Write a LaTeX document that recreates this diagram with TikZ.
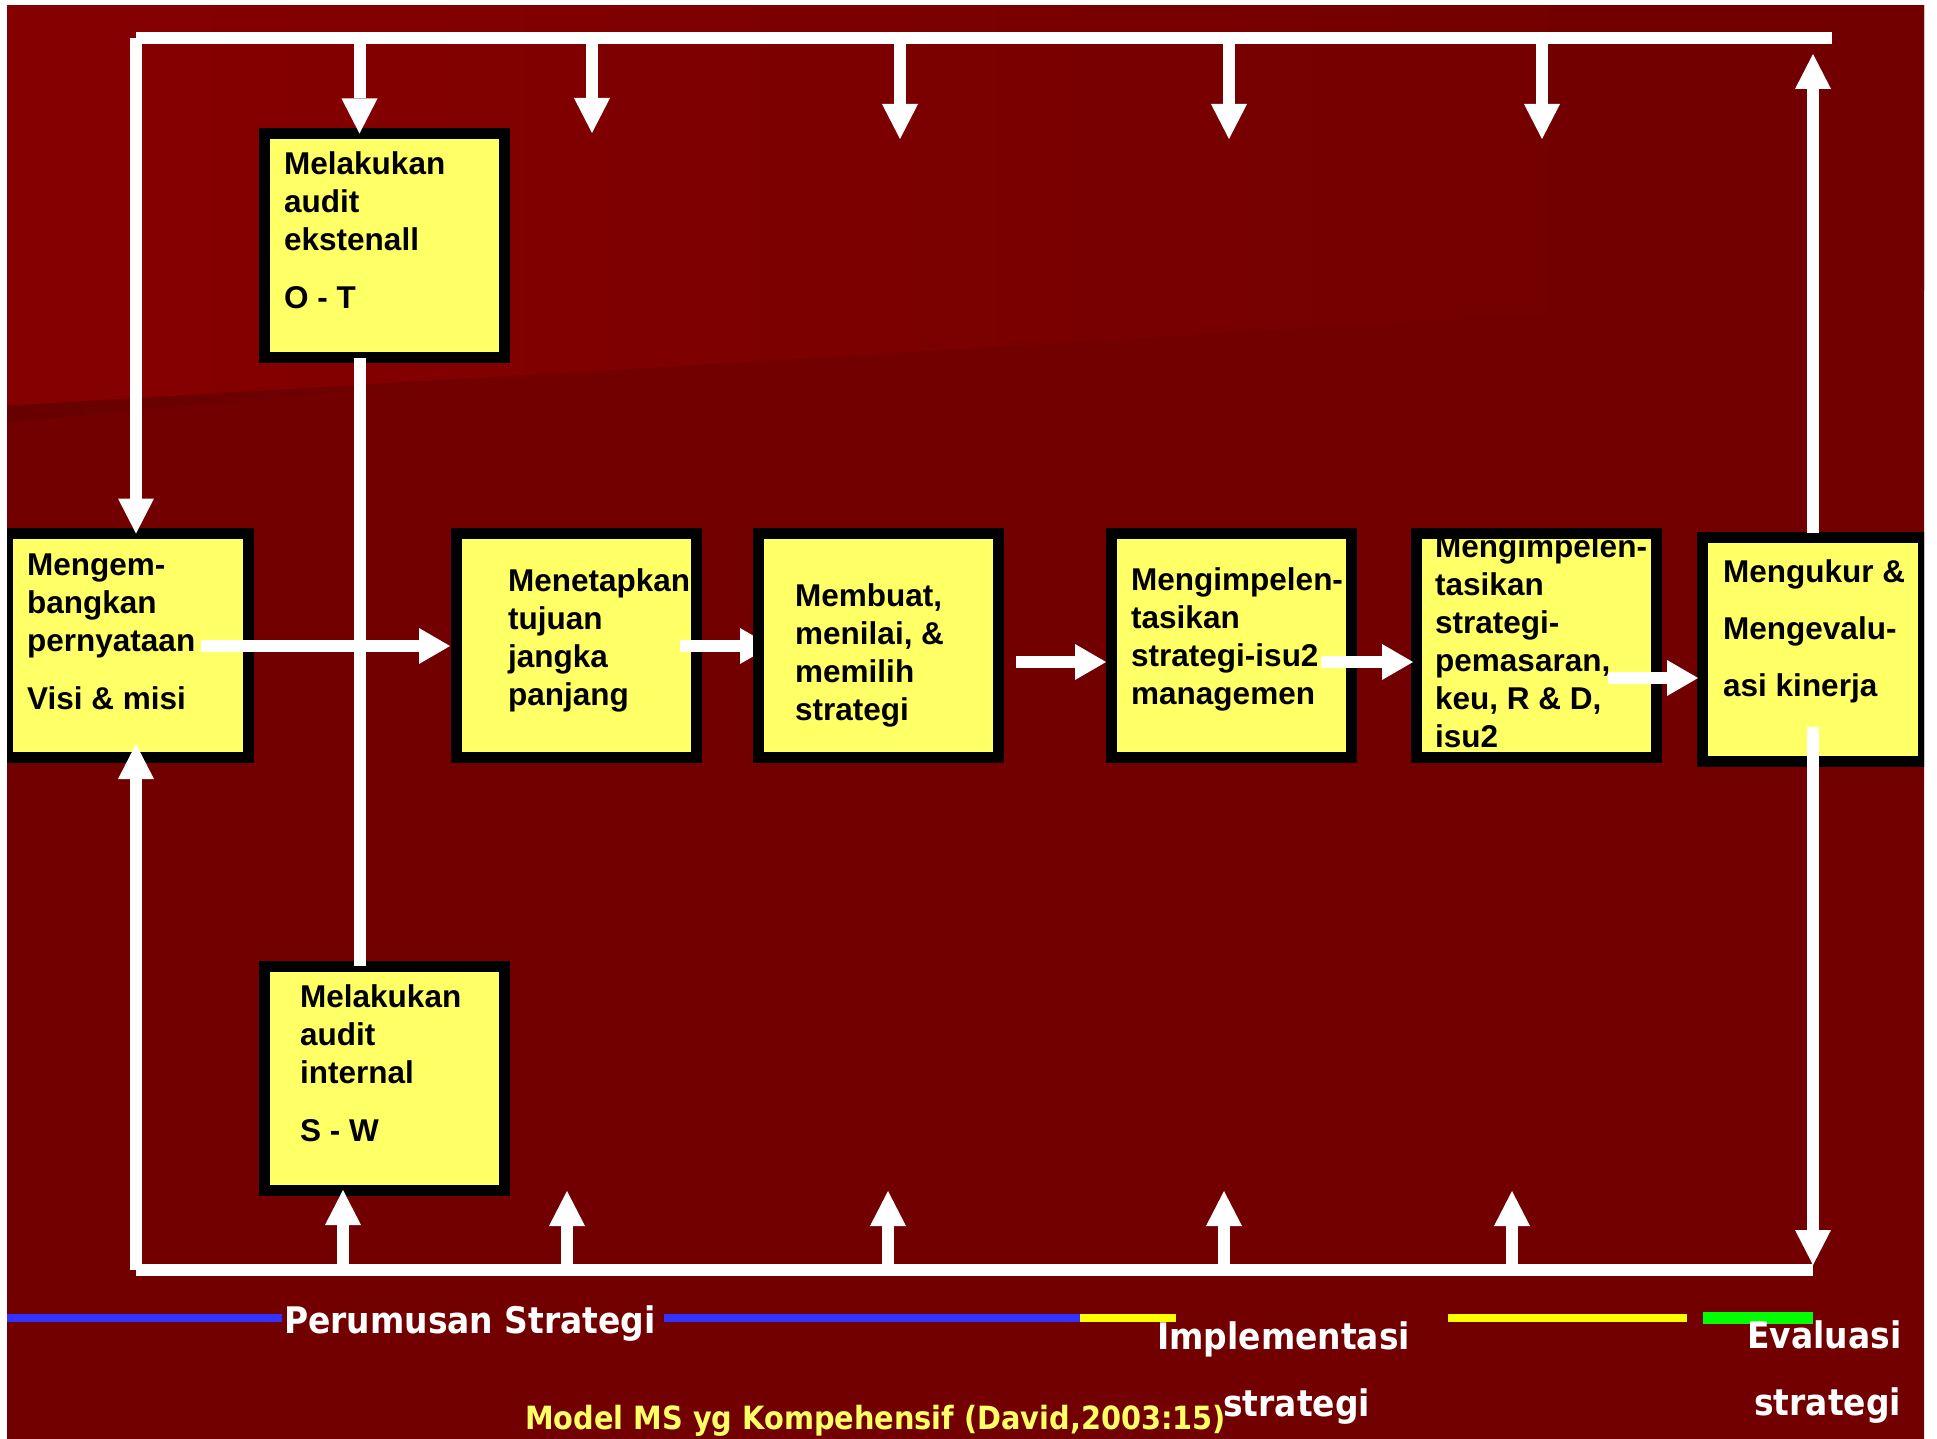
\documentclass[tikz,border=0pt]{standalone}
\usepackage{fontspec}
\setmainfont{Liberation Sans}
\newfontfamily\legendfont[FakeStretch=0.9]{DejaVu Sans}
\usetikzlibrary{arrows.meta,calc}

\definecolor{bgdark}{HTML}{720000}
\definecolor{bglight}{HTML}{880000}
\definecolor{bgshadow}{HTML}{680000}
\definecolor{boxyellow}{HTML}{FFFF66}
\definecolor{lineblue}{HTML}{3333FF}
\definecolor{lineyellow}{HTML}{FFFF00}
\definecolor{linegreen}{HTML}{00FF00}

\pgfdeclarehorizontalshading{topglow}{100bp}{color(0bp)=(bglight); color(30bp)=(bglight!85!bgdark); color(68bp)=(bgdark); color(100bp)=(bgdark)}

% multi-line text whose baseline is the first line
\newcommand\stack[1]{\begin{tabular}[t]{@{}l@{}}#1\end{tabular}}
% yellow face and black rim of a stage box
\newcommand\paintbox[1]{\fill[boxface] (#1.north west) rectangle (#1.south east);}
\newcommand\rimbox[1]{\draw[boxrim] (#1.north west) rectangle (#1.south east);}

\begin{document}
\begin{tikzpicture}[x=1bp,y=-1bp,
  stagebox/.style={rectangle, inner sep=0pt, outer sep=0pt, minimum width=240bp, minimum height=224bp},
  boxface/.style={fill=boxyellow},
  boxrim/.style={draw=black, line width=11bp, line join=miter},
  boxtext/.style={anchor=base west, inner sep=0pt, text=black, font=\bfseries\fontsize{31.5bp}{38bp}\selectfont},
  bus/.style={draw=white, line width=12bp},
  vtip/.style={bus, -{Triangle[length=35bp,width=36bp,line width=0pt]}},
  htip/.style={bus, -{Triangle[length=31bp,width=36bp,line width=0pt]}},
  legendtext/.style={anchor=base west, inner sep=0pt, text=white, font=\legendfont\bfseries\fontsize{36.6bp}{44bp}\selectfont},
  captiontext/.style={anchor=base west, inner sep=0pt, text=boxyellow, font=\legendfont\bfseries\fontsize{32bp}{38bp}\selectfont},
  phasebar/.style={line width=8bp}
]
\useasboundingbox (0,0) rectangle (1937,1439);

% stage boxes (geometry only; painted below in stacking order)
\node[stagebox] (ext)  at (384,245.5) {};
\node[stagebox] (int)  at (384,1078) {};
\node[stagebox] (vis)  at (128,645.5) {};
\node[stagebox] (tuj)  at (576.5,645.5) {};
\node[stagebox] (pil)  at (878.5,645.5) {};
\node[stagebox] (man)  at (1231.5,645.5) {};
\node[stagebox] (fun)  at (1536.5,645.5) {};
\node[stagebox, minimum width=221bp] (eval) at (1813,649.5) {};

% loop corners and branch points
\coordinate (tl) at (136,38);
\coordinate (tr) at (1832,38);
\coordinate (bl) at (136,1270);
\coordinate (br) at (1813,1270);
\coordinate (axis) at (359.5,38);
\coordinate (d2) at (592,38);   \coordinate (d2tip) at (592,133);
\coordinate (d3) at (900,38);   \coordinate (d3tip) at (900,139);
\coordinate (d4) at (1229,38);  \coordinate (d4tip) at (1229,139);
\coordinate (d5) at (1542,38);  \coordinate (d5tip) at (1542,139);
\coordinate (u1) at (343,1270);
\coordinate (u2) at (567,1270); \coordinate (u2tip) at (567,1191);
\coordinate (u3) at (888,1270); \coordinate (u3tip) at (888,1191);
\coordinate (u4) at (1224,1270);\coordinate (u4tip) at (1224,1191);
\coordinate (u5) at (1512,1270);\coordinate (u5tip) at (1512,1191);
\coordinate (toptip) at (1813,54);
\coordinate (evaldrop) at (1813,727);
\coordinate (brtip) at (1813,1265);
\coordinate (vistip) at (136,744);
\coordinate (ab0) at (201,646);  \coordinate (abtip) at (450,646);
\coordinate (bc0) at (680,646);  \coordinate (bctip) at (771,646);
\coordinate (cd0) at (1016,662); \coordinate (cdtip) at (1106,662);
\coordinate (de0) at (1321,662); \coordinate (detip) at (1413,662);
\coordinate (ef0) at (1608,678); \coordinate (eftip) at (1698,678);

% page and background
\fill[white] (0,0) rectangle (1937,1439);
\begin{scope}
\clip (7,6) rectangle (1924,1439);
\fill[bgdark] (0,0) rectangle (1937,1439);
\shade[shading=topglow] (0,0) -- (1937,0) -- (1937,290) -- (0,407) -- cycle;
\shade[left color=bgshadow, right color=bgdark] (0,406) -- (560,373) -- (0,423) -- cycle;

% left-hand boxes
\paintbox{vis}
\node[boxtext] (vis-t) at (27,575) {\stack{Mengem-\\ bangkan\\ pernyataan\\[20bp] Visi \& misi}};
\rimbox{vis}

\paintbox{ext}
\node[boxtext] (ext-t) at (284,175) {\stack{Melakukan\\ audit\\ ekstenall\\[19bp] O - T}};
\rimbox{ext}

\paintbox{int}
\node[boxtext] (int-t) at (300,1007) {\stack{Melakukan\\ audit\\ internal\\[20bp] S - W}};
\rimbox{int}

\paintbox{tuj}
\node[boxtext] (tuj-t) at (508,591) {\stack{Menetapkan\\ tujuan\\ jangka\\ panjang}};
\rimbox{tuj}

% this arrow runs in under the next box
\draw[htip] (bc0) -- (bctip);

\paintbox{pil}
\node[boxtext] (pil-t) at (795,606) {\stack{Membuat,\\ menilai, \&\\ memilih\\ strategi}};
\rimbox{pil}

\paintbox{man}
\node[boxtext] (man-t) at (1131,590) {\stack{Mengimpelen-\\ tasikan\\ strategi-isu2\\ managemen}};
\rimbox{man}

\paintbox{fun}
\node[boxtext] (fun-t) at (1435,557) {\stack{Mengimpelen-\\ tasikan\\ strategi-\\ pemasaran,\\ keu, R \& D,\\ isu2}};
\rimbox{fun}

\paintbox{eval}
\node[boxtext] (eval-t) at (1723,582) {\stack{Mengukur \&\\[19bp] Mengevalu-\\[19bp] asi kinerja}};
\rimbox{eval}

% feedback loop: top bus and its drops
\draw[bus] (tl) -- (tr);
\draw[vtip] (tl) -- (tl |- vis.north);
\draw[vtip] (axis) -- (axis |- ext.north);
\draw[vtip] (d2) -- (d2tip);
\draw[vtip] (d3) -- (d3tip);
\draw[vtip] (d4) -- (d4tip);
\draw[vtip] (d5) -- (d5tip);
\draw[vtip, shorten <=4.5bp] (eval.north) -- (toptip);

% feedback loop: bottom bus and its risers
\draw[bus] (bl) -- (br);
\draw[vtip] (bl) -- (vistip);
\draw[vtip] (u1) -- (u1 |- int.south);
\draw[vtip] (u2) -- (u2tip);
\draw[vtip] (u3) -- (u3tip);
\draw[vtip] (u4) -- (u4tip);
\draw[vtip] (u5) -- (u5tip);
\draw[vtip] (evaldrop) -- (brtip);

% external / internal audit link
\draw[bus] (axis |- ext.south) -- (axis |- int.north);

% main flow
\draw[htip] (ab0) -- (abtip);
\draw[htip] (cd0) -- (cdtip);
\draw[htip] (de0) -- (detip);
\draw[htip] (ef0) -- (eftip);

% phase legend
\draw[phasebar, lineblue] (7,1318) -- (282,1318);
\node[legendtext] (lg-form) at (284,1333) {Perumusan Strategi};
\draw[phasebar, lineblue] (664,1318) -- (1080,1318);
\draw[phasebar, lineyellow] (1080,1318) -- (1176,1318);
\node[legendtext] (lg-impl) at (1157,1349) {Implementasi};
\node[legendtext] (lg-impl2) at (1223,1416) {strategi};
\draw[phasebar, lineyellow] (1448,1318) -- (1687,1318);
\draw[line width=12bp, linegreen] (1703,1318) -- (1813,1318);
\node[legendtext] (lg-eval) at (1747,1348) {Evaluasi};
\node[legendtext] (lg-eval2) at (1754,1415) {strategi};
\node[captiontext] (caption) at (525,1429) {Model MS yg Kompehensif (David,2003:15)};
\end{scope}
\end{tikzpicture}
\end{document}
